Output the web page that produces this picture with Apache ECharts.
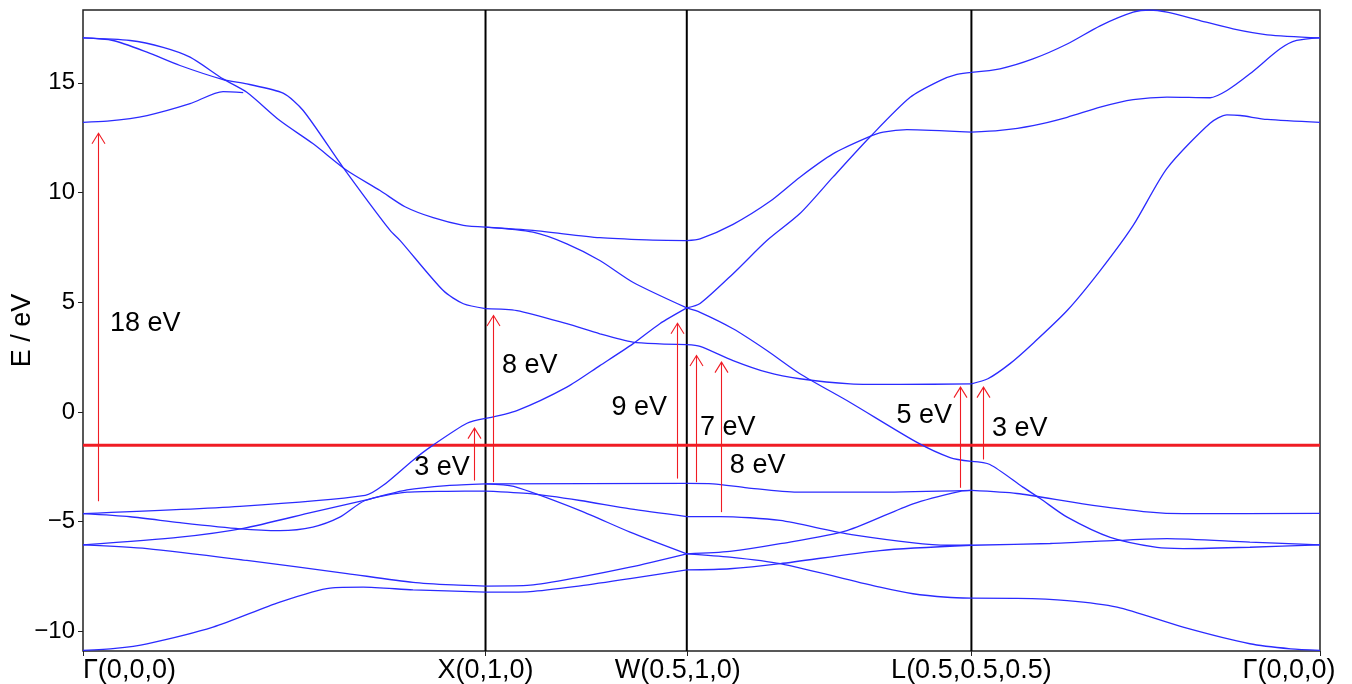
<!DOCTYPE html>
<html>
<head>
<meta charset="UTF-8">
<script src="https://cdn.jsdelivr.net/npm/echarts@6/dist/echarts.min.js"></script>
<style>
html, body { margin: 0; padding: 0; background: #fff; }
#main { width: 1352px; height: 684px; }
</style>
</head>
<body>
<div id="main"></div>
<script>
// k-path (units of 2pi/a) and its labels
var kTicks = [0, 1, 1.5, 2.2071, 3.0731];
var kLabels = ['Γ(0,0,0)', 'X(0,1,0)', 'W(0.5,1,0)', 'L(0.5,0.5,0.5)', 'Γ(0,0,0)'];
var eTicks = [-10, -5, 0, 5, 10, 15];
var eMin = -10.9, eMax = 18.32;
var eFermi = -1.52;

// Γ -> X
var gxBand1 = [[0,-10.87],[0.08,-10.78],[0.159,-10.57],[0.323,-9.81],[0.489,-8.67],[0.614,-8.03],[0.696,-7.99],[0.82,-8.11],[1,-8.22]];
var gxBand2 = [[0,-6.06],[0.159,-6.23],[0.407,-6.77],[0.656,-7.37],[0.82,-7.77],[0.92,-7.89],[1,-7.94]];
var gxBand3 = [[0,-6.06],[0.241,-5.71],[0.398,-5.31],[0.571,-4.57],[0.696,-4.04],[0.805,-3.56],[0.904,-3.36],[1,-3.28]];
var gxBand4 = [[0,-4.64],[0.117,-4.78],[0.241,-5.05],[0.39,-5.33],[0.489,-5.41],[0.571,-5.25],[0.638,-4.8],[0.701,-4.04],[0.805,-3.66],[0.904,-3.62],[1,-3.61]];
var gxBand5 = [[0,-4.64],[0.39,-4.31],[0.701,-3.81],[0.745,-3.36],[0.82,-2.2],[0.867,-1.55],[0.954,-0.52],[1,-0.3]];
var gxBand6 = [[0,13.2],[0.06,13.25],[0.159,13.51],[0.266,14.05],[0.348,14.6],[0.398,14.55]];
var gxBand7 = [[0,17.05],[0.0745,16.93],[0.159,16.4],[0.241,15.79],[0.348,15.15],[0.407,14.95],[0.497,14.53],[0.547,13.74],[0.646,11.15],[0.763,8.27],[0.788,7.81],[0.895,5.53],[0.945,4.93],[1,4.71]];
var gxBand8 = [[0,17.05],[0.117,16.93],[0.199,16.62],[0.266,16.17],[0.348,15.18],[0.407,14.57],[0.489,13.28],[0.571,12.23],[0.656,11.0],[0.738,10.09],[0.8,9.35],[0.87,8.85],[0.945,8.5],[1,8.42]];

// X -> W
var xwBand1 = [[1,-8.22],[1.111,-8.19],[1.235,-7.93],[1.359,-7.6],[1.5,-7.2]];
var xwBand2 = [[1,-7.94],[1.111,-7.9],[1.235,-7.53],[1.359,-7.08],[1.5,-6.47]];
var xwBand3 = [[1,-3.28],[1.07,-3.4],[1.235,-4.5],[1.359,-5.48],[1.5,-6.47]];
var xwBand4 = [[1,-3.28],[1.5,-3.26]];
var xwBand5 = [[1,-3.61],[1.111,-3.73],[1.235,-4.04],[1.359,-4.42],[1.5,-4.77]];
var xwBand6 = [[1,-0.3],[1.078,0.06],[1.202,1.13],[1.284,2.11],[1.366,3.1],[1.433,4.02],[1.5,4.74]];
var xwBand7 = [[1,4.71],[1.078,4.62],[1.202,4.02],[1.284,3.56],[1.366,3.18],[1.433,3.1],[1.5,3.07]];
var xwBand8 = [[1,8.42],[1.118,8.27],[1.284,7.94],[1.4,7.84],[1.5,7.81]];
var xwBand9 = [[1,8.42],[1.118,8.19],[1.202,7.66],[1.284,6.9],[1.366,5.91],[1.5,4.74]];

// W -> L
var wlBand1 = [[1.5,-7.2],[1.607,-7.15],[1.732,-6.92],[1.98,-6.32],[2.2071,-6.08]];
var wlBand2 = [[1.5,-6.47],[1.607,-6.62],[1.732,-6.92],[1.98,-7.99],[2.062,-8.29],[2.147,-8.45],[2.2071,-8.49]];
var wlBand3 = [[1.5,-6.47],[1.607,-6.36],[1.732,-6.01],[1.898,-5.41],[2.062,-4.19],[2.179,-3.62],[2.2071,-3.58]];
var wlBand4 = [[1.5,-4.77],[1.582,-4.77],[1.732,-4.95],[1.898,-5.56],[2.147,-6.08],[2.2071,-6.08]];
var wlBand5 = [[1.5,-3.26],[1.565,-3.28],[1.65,-3.46],[1.774,-3.66],[1.98,-3.66],[2.2071,-3.58]];
var wlBand6 = [[1.5,3.07],[1.533,2.99],[1.615,2.34],[1.699,1.81],[1.781,1.51],[1.906,1.28],[2.03,1.25],[2.2071,1.28]];
var wlBand7 = [[1.5,4.74],[1.533,4.54],[1.615,3.79],[1.699,2.8],[1.781,1.74],[1.906,0.43],[2.072,-1.39],[2.154,-2.08],[2.2071,-2.26]];
var wlBand8 = [[1.5,4.74],[1.533,4.94],[1.615,6.3],[1.699,7.81],[1.781,9.04],[1.863,10.7],[1.955,12.53],[2.055,14.34],[2.129,15.1],[2.171,15.38],[2.2071,15.48]];
var wlBand9 = [[1.5,7.81],[1.533,7.89],[1.615,8.55],[1.707,9.6],[1.781,10.7],[1.863,11.76],[1.948,12.5],[1.988,12.75],[2.047,12.87],[2.2071,12.75]];

// L -> Γ
var lgBand1 = [[2.2071,15.48],[2.278,15.64],[2.36,16.09],[2.445,16.77],[2.527,17.6],[2.609,18.22],[2.651,18.32],[2.693,18.22],[2.775,17.84],[2.857,17.46],[2.942,17.19],[3.0731,17.05]];
var lgBand2 = [[2.2071,12.75],[2.278,12.83],[2.36,13.05],[2.445,13.43],[2.527,13.89],[2.609,14.23],[2.693,14.35],[2.8,14.32],[2.842,14.65],[2.899,15.41],[2.974,16.55],[3.015,16.93],[3.0731,17.05]];
var lgBand3 = [[2.2071,1.28],[2.248,1.51],[2.303,2.2],[2.36,3.12],[2.445,4.62],[2.527,6.44],[2.609,8.5],[2.693,11.1],[2.8,13.16],[2.842,13.54],[2.875,13.51],[2.942,13.33],[3.0731,13.2]];
var lgBand4 = [[2.2071,-2.26],[2.253,-2.4],[2.335,-3.43],[2.378,-3.95],[2.445,-4.8],[2.552,-5.72],[2.668,-6.18],[2.733,-6.23],[2.899,-6.17],[3.0731,-6.06]];
var lgBand5 = [[2.2071,-3.58],[2.32,-3.72],[2.484,-4.19],[2.651,-4.57],[2.733,-4.64],[3.0731,-4.63]];
var lgBand6 = [[2.2071,-6.08],[2.403,-6.0],[2.569,-5.86],[2.693,-5.78],[2.899,-5.94],[3.0731,-6.06]];
var lgBand7 = [[2.2071,-8.49],[2.32,-8.5],[2.445,-8.6],[2.569,-8.9],[2.733,-9.81],[2.899,-10.57],[3.0,-10.8],[3.0731,-10.87]];

// transitions: k, start E, end E, text, text anchor (k, E)
var arrowK    = [0.0365, 0.971, 1.019, 1.475, 1.522, 1.584, 2.179, 2.235];
var arrowFrom = [-4.07, -3.13, -3.2, -3.04, -3.2, -4.57, -3.46, -2.17];
var arrowTo   = [12.7, -0.74, 4.39, 4.04, 2.57, 2.27, 1.13, 1.13];
var arrowText = ['18 eV', '3 eV', '8 eV', '9 eV', '7 eV', '8 eV', '5 eV', '3 eV'];
var textK     = [0.067, 0.961, 1.041, 1.451, 1.533, 1.607, 2.159, 2.258];
var textE     = [4.03, -2.52, 2.11, 0.21, -0.70, -2.44, -0.16, -0.77];
var textSide  = ['left', 'right', 'left', 'right', 'left', 'left', 'right', 'left'];

var bands = [gxBand1, gxBand2, gxBand3, gxBand4, gxBand5, gxBand6, gxBand7, gxBand8,
             xwBand1, xwBand2, xwBand3, xwBand4, xwBand5, xwBand6, xwBand7, xwBand8, xwBand9,
             wlBand1, wlBand2, wlBand3, wlBand4, wlBand5, wlBand6, wlBand7, wlBand8, wlBand9,
             lgBand1, lgBand2, lgBand3, lgBand4, lgBand5, lgBand6, lgBand7];

var FONT = '"Liberation Sans", Arial, sans-serif';
var RED = '#f01c24';

var series = bands.map(function (b) {
    return {
        type: 'line', data: b, showSymbol: false, smooth: 0.25,
        lineStyle: { color: '#2b2bff', width: 1.3 }, z: 3, silent: true
    };
});

// vertical high-symmetry lines
[kTicks[1], kTicks[2], kTicks[3]].forEach(function (k) {
    series.push({
        type: 'line', data: [[k, eMin], [k, eMax]], showSymbol: false, silent: true, z: 2,
        lineStyle: { color: '#000', width: 2 }
    });
});
// Fermi level
series.push({
    type: 'line', data: [[kTicks[0], eFermi], [kTicks[4], eFermi]], showSymbol: false, silent: true, z: 2,
    lineStyle: { color: RED, width: 3 }
});

series.push({
    type: 'custom', z: 5, silent: true,
    data: arrowK.map(function (k, i) { return [k, arrowFrom[i], arrowTo[i], textK[i], textE[i]]; }),
    encode: { x: [0, 3], y: [1, 2, 4] },
    renderItem: function (params, api) {
        var i = params.dataIndex;
        var p0 = api.coord([api.value(0), api.value(1)]);
        var p1 = api.coord([api.value(0), api.value(2)]);
        var t = api.coord([api.value(3), api.value(4)]);
        var x = Math.round(p1[0]) + 0.5;
        return {
            type: 'group',
            children: [
                { type: 'line', shape: { x1: x, y1: p0[1], x2: x, y2: p1[1] },
                  style: { stroke: RED, lineWidth: 1.1 } },
                { type: 'polyline', shape: { points: [[x - 6.5, p1[1] + 10.5], [x, p1[1]], [x + 6.5, p1[1] + 10.5]] },
                  style: { stroke: RED, lineWidth: 1.1, fill: null } },
                { type: 'text', x: t[0], y: t[1],
                  style: { text: arrowText[i], fill: '#000', font: '27px ' + FONT,
                           align: textSide[i], verticalAlign: 'middle' } }
            ]
        };
    }
});

var chart = echarts.init(document.getElementById('main'));
chart.setOption({
    animation: false,
    backgroundColor: '#fff',
    grid: { left: 83, right: 32, top: 10, bottom: 33, containLabel: false, outerBoundsMode: 'none',
            show: true, borderColor: '#222', borderWidth: 1.5, backgroundColor: 'transparent' },
    xAxis: {
        type: 'value', min: 0, max: kTicks[kTicks.length - 1],
        axisLine: { show: false, onZero: false },
        splitLine: { show: false },
        axisTick: { show: true, length: 5, customValues: kTicks, lineStyle: { color: '#222' } },
        axisLabel: {
            customValues: kTicks, margin: 6, color: '#000', fontFamily: FONT, fontSize: 27,
            alignMinLabel: 'left', alignMaxLabel: 'center', hideOverlap: false,
            rich: {
                w: { fontFamily: FONT, fontSize: 27, color: '#000', padding: [0, 18, 0, 0] },
                g: { fontFamily: FONT, fontSize: 27, color: '#000', padding: [0, 62, 0, 0] }
            },
            formatter: function (v) {
                var best = 0;
                for (var i = 1; i < kTicks.length; i++) {
                    if (Math.abs(kTicks[i] - v) < Math.abs(kTicks[best] - v)) best = i;
                }
                if (best === 2) return '{w|' + kLabels[best] + '}';
                if (best === kTicks.length - 1) return '{g|' + kLabels[best] + '}';
                return kLabels[best];
            }
        }
    },
    yAxis: {
        type: 'value', min: eMin, max: eMax,
        name: 'E / eV', nameLocation: 'middle', nameGap: 47, nameMoveOverlap: false,
        nameTextStyle: { color: '#000', fontFamily: FONT, fontSize: 27 },
        axisLine: { show: false, onZero: false },
        splitLine: { show: false },
        axisTick: { show: true, length: 5, customValues: eTicks, lineStyle: { color: '#222' } },
        axisLabel: {
            customValues: eTicks, margin: 8, color: '#000', fontFamily: FONT, fontSize: 24,
            formatter: function (v) { return v < 0 ? '\u2212' + Math.abs(v) : String(v); }
        }
    },
    series: series
});
</script>
</body>
</html>
